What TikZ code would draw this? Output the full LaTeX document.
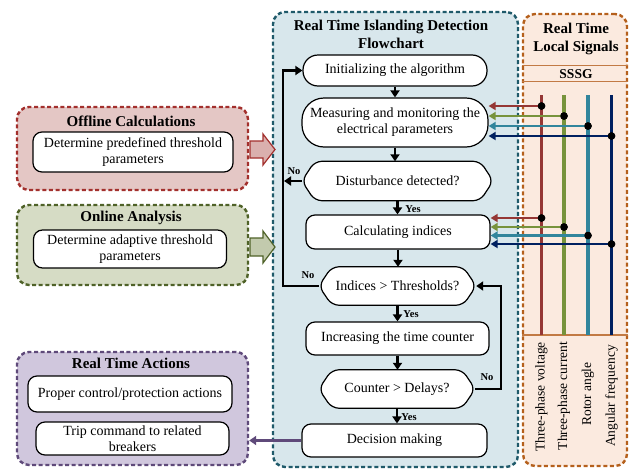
\documentclass[tikz,border=0pt]{standalone}
\usepackage{fontspec}
\setmainfont{Liberation Serif}
\usetikzlibrary{arrows.meta}
\definecolor{cfill}{HTML}{D8E7EC}
\definecolor{cdraw}{HTML}{1F5A6A}
\definecolor{rfill}{HTML}{FBEADF}
\definecolor{rdraw}{HTML}{B5601C}
\definecolor{ofill}{HTML}{E4C7C5}
\definecolor{odraw}{HTML}{A3302D}
\definecolor{gfill}{HTML}{D6DCC5}
\definecolor{gdraw}{HTML}{4F6228}
\definecolor{afill}{HTML}{D0C7DD}
\definecolor{adraw}{HTML}{5F4A7A}
\definecolor{sred}{HTML}{953735}
\definecolor{sgreen}{HTML}{77933C}
\definecolor{steal}{HTML}{31859C}
\definecolor{snavy}{HTML}{002060}
\definecolor{sepc}{HTML}{C27A44}
\begin{document}
\begin{tikzpicture}[x=1pt,y=-1pt,
  font=\fontsize{14}{16}\selectfont,
  panel/.style={draw, line width=2.4pt, dash pattern=on 4pt off 2.6pt, rounded corners=12pt, inner sep=0pt},
  wbox/.style={draw, fill=white, line width=1.2pt, rounded corners=9pt, align=center, inner sep=0pt},
  stad/.style={wbox, rounded corners=15pt},
  dectext/.style={inner sep=0pt, align=center},
  decshape/.style={draw, fill=white, line width=1.2pt, rounded corners=7pt},
  title/.style={font=\fontsize{15}{18}\selectfont\bfseries, align=center, inner sep=0pt},
  lab/.style={font=\fontsize{10.5}{12}\selectfont\bfseries, inner sep=0pt},
  flow/.style={line width=2.8pt, -{Triangle[length=7pt,width=9pt]}},
  sig/.style={line width=2.8pt, -{Triangle[length=7pt,width=8pt]}},
  vsig/.style={line width=3.4pt},
  dot/.style={circle, fill=black, inner sep=0pt, minimum size=7.5pt},
  sep/.style={draw=sepc, line width=1.3pt},
  vlab/.style={rotate=90, inner sep=0pt, font=\fontsize{13.5}{15}\selectfont}
]
\useasboundingbox (0,0) rectangle (633,469);

% panels
\node[panel, draw=cdraw, fill=cfill, minimum width=245, minimum height=455] (cpanel) at (395.5,239.5) {};
\node[panel, draw=rdraw, fill=rfill, minimum width=104, minimum height=452] (rpanel) at (575,240) {};
\node[panel, draw=odraw, fill=ofill, minimum width=231, minimum height=83] (offline) at (132.5,148.5) {};
\node[panel, draw=gdraw, fill=gfill, minimum width=231, minimum height=80] (online) at (132.5,245) {};
\node[panel, draw=adraw, fill=afill, minimum width=231, minimum height=113] (actions) at (132.5,408.5) {};

% titles
\node[title] (ctitle) at (391,34) {Real Time Islanding Detection\\Flowchart};
\node[title] (rtitle) at (576,39) {Real Time\\Local Signals};
\node[title] (otitle) at (131,121) {Offline Calculations};
\node[title] (gtitle) at (131,218) {Online Analysis};
\node[title] (atitle) at (131,363) {Real Time Actions};

% left inner boxes
\node[wbox, minimum width=200, minimum height=40] (predef) at (133,152) {Determine predefined threshold\\parameters};
\node[wbox, minimum width=193, minimum height=38] (adapt) at (130,249) {Determine adaptive threshold\\parameters};
\node[wbox, minimum width=204, minimum height=36] (proper) at (130,394) {Proper control/protection actions};
\node[wbox, minimum width=193, minimum height=33] (trip) at (132.5,438.5) {Trip command to related\\breakers};

% block arrows
\draw[draw=odraw, fill=ofill!85!odraw, line width=1.2pt]
  (250,141) -- (263,141) -- (263,134) -- (275,149.5) -- (263,165) -- (263,158) -- (250,158) -- cycle;
\draw[draw=gdraw, fill=gfill!85!gdraw, line width=1.2pt]
  (250,238) -- (263,238) -- (263,231) -- (275,247) -- (263,263) -- (263,256) -- (250,256) -- cycle;

% flowchart nodes
\node[stad, minimum width=184, minimum height=31] (init) at (395,70.5) {Initializing the algorithm};
\node[stad, rounded corners=22pt, minimum width=186, minimum height=49] (meas) at (395,122.5) {Measuring and monitoring the\\electrical parameters};
\node[dectext, minimum width=191, minimum height=39] (dist) at (397.5,181) {};
\draw[decshape] (dist.west) -- ([xshift=13pt]dist.north west) -- ([xshift=-13pt]dist.north east) -- (dist.east) -- ([xshift=-13pt]dist.south east) -- ([xshift=13pt]dist.south west) -- cycle;
\node at (dist) {Disturbance detected?};
\node[wbox, minimum width=184, minimum height=34] (calc) at (398,232) {Calculating indices};
\node[dectext, minimum width=157, minimum height=38] (ind) at (397.5,286) {};
\draw[decshape] (ind.west) -- ([xshift=13pt]ind.north west) -- ([xshift=-13pt]ind.north east) -- (ind.east) -- ([xshift=-13pt]ind.south east) -- ([xshift=13pt]ind.south west) -- cycle;
\node at (ind) {Indices > Thresholds?};
\node[wbox, minimum width=183, minimum height=33] (inc) at (397.5,338.5) {Increasing the time counter};
\node[dectext, minimum width=156, minimum height=38] (cnt) at (397,389) {};
\draw[decshape] (cnt.west) -- ([xshift=13pt]cnt.north west) -- ([xshift=-13pt]cnt.north east) -- (cnt.east) -- ([xshift=-13pt]cnt.south east) -- ([xshift=13pt]cnt.south west) -- cycle;
\node at (cnt) {Counter > Delays?};
\node[wbox, minimum width=185, minimum height=33] (dec) at (394.5,440.5) {Decision making};

% flow arrows
\draw[flow] (init.south) -- (init.south |- meas.north);
\draw[flow] (meas.south) -- (meas.south |- dist.north);
\draw[flow] (dist.south) -- (dist.south |- calc.north);
\draw[flow] (calc.south) -- (calc.south |- ind.north);
\draw[flow] (ind.south) -- (ind.south |- inc.north);
\draw[flow] (inc.south) -- (inc.south |- cnt.north);
\draw[flow] (cnt.south) -- (cnt.south |- dec.north);

\coordinate (loopL) at (283,0);
\coordinate (loopR) at (501,0);
\draw[flow] (ind.west) -- (ind.west -| loopL) -- (init.west -| loopL) -- (init.west);
\draw[flow] (dist.west) -- ([xshift=1pt]dist.west -| loopL);
\draw[flow] (cnt.east) -- (cnt.east -| loopR) -- (ind.east -| loopR) -- (ind.east);
\draw[line width=2.8pt, draw=adraw, -{Triangle[length=7pt,width=9pt]}] (dec.west) -- (dec.west -| actions.east);

% labels
\node[lab] (no1) at (294,171) {No};
\node[lab] (yes1) at (413,209) {Yes};
\node[lab] (no2) at (308,275) {No};
\node[lab] (yes2) at (411,314) {Yes};
\node[lab] (no3) at (487,377) {No};
\node[lab] (yes3) at (409,417) {Yes};

% right panel separators
\draw[sep] (rpanel.west |- 0,65.5) -- (rpanel.east |- 0,65.5);
\draw[sep] (rpanel.west |- 0,81.5) -- (rpanel.east |- 0,81.5);
\draw[sep] (rpanel.west |- 0,335) -- (rpanel.east |- 0,335);
\node[title, font=\fontsize{13.5}{14}\selectfont\bfseries] (sssg) at (576,74) {SSSG};

% vertical signal lines
\coordinate (vA) at (541.5,95);
\coordinate (vB) at (564,95);
\coordinate (vC) at (588,95);
\coordinate (vD) at (611.5,95);
\draw[vsig, sred] (vA) -- (541.5,335);
\draw[vsig, sgreen] (vB) -- (564,335);
\draw[vsig, steal] (vC) -- (588,335);
\draw[vsig, snavy] (vD) -- (611.5,335);

% dots
\node[dot] (mA) at (541.5,106) {};
\node[dot] (mB) at (564,116) {};
\node[dot] (mC) at (588,126) {};
\node[dot] (mD) at (611.5,136) {};
\node[dot] (cA) at (541.5,218) {};
\node[dot] (cB) at (564,227) {};
\node[dot] (cC) at (588,235.5) {};
\node[dot] (cD) at (611.5,244) {};

\draw[sig, sred] (mA.center) -- (mA -| meas.east);
\draw[sig, sgreen] (mB.center) -- (mB -| meas.east);
\draw[sig, steal] (mC.center) -- (mC -| meas.east);
\draw[sig, snavy] (mD.center) -- (mD -| meas.east);
\draw[sig, sred] (cA.center) -- (cA -| calc.east);
\draw[sig, sgreen] (cB.center) -- (cB -| calc.east);
\draw[sig, steal] (cC.center) -- (cC -| calc.east);
\draw[sig, snavy] (cD.center) -- (cD -| calc.east);
\foreach \n in {mA,mB,mC,mD,cA,cB,cC,cD} \node[dot] at (\n) {};

% vertical labels
\node[vlab] (lA) at (541.5,397) {Three-phase voltage};
\node[vlab] (lB) at (564,396) {Three-phase current};
\node[vlab] (lC) at (588,394) {Rotor angle};
\node[vlab] (lD) at (611.5,396) {Angular frequency};
\end{tikzpicture}
\end{document}
